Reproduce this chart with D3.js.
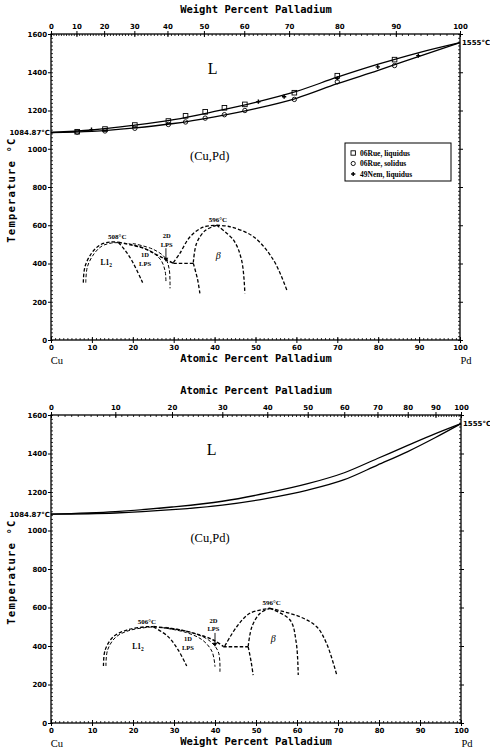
<!DOCTYPE html>
<html><head><meta charset="utf-8">
<script src="https://cdn.jsdelivr.net/npm/d3@7/dist/d3.min.js"></script>
<style>body{margin:0;background:#fff}svg{display:block}</style>
</head><body>
<svg id="chart" width="490" height="749"></svg>
<script>
// ---------- data ----------
const MCu = 63.546, MPd = 106.42;
const tempTicks = [0, 200, 400, 600, 800, 1000, 1200, 1400, 1600];
const pctTicks = [0, 10, 20, 30, 40, 50, 60, 70, 80, 90, 100];
const meltCu = 1084.87, meltPd = 1555;

// liquidus / solidus in atomic % Pd
const liquidusAt = [[0,1084.87],[10,1098],[20,1122],[30,1152],[40,1195],[50,1243],[60,1300],[70,1374],[80,1442],[90,1503],[100,1555]];
const solidusAt  = [[0,1084.87],[10,1091],[20,1108],[30,1132],[40,1167],[50,1210],[60,1264],[70,1340],[80,1410],[90,1483],[100,1555]];

// experimental points (atomic %)
const rueLiq = [[6.4,1089],[13.2,1103],[20.5,1124],[28.7,1145],[32.9,1172],[37.7,1193],[42.4,1214],[47.4,1232],[59.5,1293],[70,1382],[84,1466]];
const rueSol = [[6.4,1087],[13.2,1093],[20.5,1107],[28.7,1127],[32.9,1140],[37.7,1160],[42.4,1178],[47.4,1200],[59.5,1258],[70,1350],[84,1435]];
const nemLiq = [[9.9,1100],[50.7,1246],[57,1272],[70,1368],[79.9,1428],[89.8,1487]];

// ordering boundaries, upper diagram (atomic %)
const topL12Outer = [[7.9,300],[8.3,383],[9.9,453],[12,497],[14.4,512],[16.5,511]];
const topL12Inner = [[8.5,300],[8.9,383],[10.5,450],[12.5,492],[14.8,507],[16.5,509]];
const topL12Right = [[16.5,510],[18,472],[19.7,418],[22.4,300]];
const topUpper    = [[16.5,511],[22.6,480],[26.6,437],[29.9,401]];
const top1DA      = [[19,504],[24,468],[26.8,420],[27.9,360],[28.1,305]];
const top1DB      = [[20,505],[25,474],[27.9,430],[28.9,370],[29.1,270]];
const topHoriz    = [[29.9,401],[34.8,401]];
const topBetaOutL = [[29.9,405],[31.5,453],[34,540],[37.2,590],[40.5,600]];
const topBetaInL  = [[34.8,405],[35.6,506],[37.7,572],[40.5,600]];
const topBetaInLLow = [[34.8,401],[35.8,320],[36.4,244]];
const topBetaInR  = [[40.5,600],[44.6,523],[46.6,418],[47.4,244]];
const topBetaOutR = [[40.5,600],[43.8,592],[49.5,540],[54.4,418],[57.8,253]];

// ordering boundaries, lower diagram (weight %)
const botL12Outer = [[12.8,296],[13.2,379],[15.2,448],[18.5,483],[23.3,500],[25,500]];
const botL12Inner = [[13.4,296],[13.8,379],[15.8,446],[19,480],[23.5,497],[25,499]];
const botL12Right = [[25,499],[28.5,450],[31,380],[33.1,296]];
const botUpper    = [[25,501],[31.5,483],[36.3,457],[39.6,431],[42,398]];
const bot1DA      = [[27,496],[33,470],[37,430],[39.3,370],[40,292]];
const bot1DB      = [[28,497],[34,472],[38.5,430],[40.8,370],[41.2,266]];
const botHoriz    = [[42,396],[48.1,396]];
const botBetaOutL = [[42.4,400],[45.3,500],[48.5,570],[53.4,596]];
const botBetaInL  = [[48.1,398],[49,500],[51,570],[53.4,596]];
const botBetaInLLow = [[48.1,396],[48.8,320],[49.3,249]];
const botBetaInR  = [[53.4,596],[58.3,535],[59.8,420],[60.3,249]];
const botBetaOutR = [[53.4,596],[60.7,552],[64.8,500],[67.2,414],[69.7,249]];

// ---------- helpers ----------
const at2wt = a => a <= 0 ? 0 : a >= 100 ? 100 : 100 * a * MPd / (a * MPd + (100 - a) * MCu);
const wt2at = w => w <= 0 ? 0 : w >= 100 ? 100 : 100 * (w / MPd) / (w / MPd + (100 - w) / MCu);

const svg = d3.select("#chart");
const monoFont = "'DejaVu Sans Mono', monospace";
const tickFont = "'DejaVu Sans', sans-serif";
const serif = "'Liberation Serif', serif";

function drawPanel(cfg) {
  const x = d3.scaleLinear().domain([0, 100]).range([cfg.xL, cfg.xR]);
  const y = d3.scaleLinear().domain([0, 1600]).range([cfg.yB, cfg.yT]);
  const g = svg.append("g");
  const mainConv = cfg.mainConv;
  const topPos = cfg.topPos;

  g.append("rect").attr("x", x(0)).attr("y", y(1600)).attr("width", x(100) - x(0)).attr("height", y(0) - y(1600))
    .attr("fill", "none").attr("stroke", "#000").attr("stroke-width", 1.3);

  const bMinor = d3.range(0, 101, 1);
  g.append("g").attr("transform", `translate(0,${y(0)})`)
    .call(d3.axisTop(x).tickValues(bMinor).tickSize(2).tickFormat(""))
    .call(s => { s.select(".domain").remove(); s.selectAll("line").attr("stroke-width", 0.8); });
  g.append("g").attr("transform", `translate(0,${y(0)})`)
    .call(d3.axisBottom(x).tickValues(pctTicks).tickSize(3).tickPadding(2).tickFormat(d3.format("d")))
    .call(s => { s.select(".domain").remove(); s.selectAll("line").attr("stroke-width", 1);
      s.selectAll("text").attr("font-family", tickFont).attr("font-weight", "bold").attr("font-size", 7); });
  g.append("g").attr("transform", `translate(0,${y(0)})`)
    .call(d3.axisTop(x).tickValues(pctTicks).tickSize(3).tickFormat(""))
    .call(s => { s.select(".domain").remove(); });

  const tMinor = d3.range(0, 101, 1);
  g.append("g").attr("transform", `translate(0,${y(1600)})`)
    .call(d3.axisBottom(x).tickValues(tMinor.map(topPos)).tickSize(2).tickFormat(""))
    .call(s => { s.select(".domain").remove(); s.selectAll("line").attr("stroke-width", 0.8); });
  g.append("g").attr("transform", `translate(0,${y(1600)})`)
    .call(d3.axisTop(x).tickValues(pctTicks.map(topPos)).tickSize(3).tickPadding(2)
      .tickFormat((d, i) => pctTicks[i]))
    .call(s => { s.select(".domain").remove();
      s.selectAll("text").attr("font-family", tickFont).attr("font-weight", "bold").attr("font-size", 7); });
  g.append("g").attr("transform", `translate(0,${y(1600)})`)
    .call(d3.axisBottom(x).tickValues(pctTicks.map(topPos)).tickSize(3).tickFormat(""))
    .call(s => { s.select(".domain").remove(); });

  const yMinor = d3.range(0, 1601, 20);
  g.append("g").attr("transform", `translate(${x(0)},0)`)
    .call(d3.axisRight(y).tickValues(yMinor).tickSize(2).tickFormat(""))
    .call(s => { s.select(".domain").remove(); s.selectAll("line").attr("stroke-width", 0.8); });
  g.append("g").attr("transform", `translate(${x(0)},0)`)
    .call(d3.axisLeft(y).tickValues(tempTicks).tickSize(3).tickPadding(1).tickFormat(d3.format("d")))
    .call(s => { s.select(".domain").remove();
      s.selectAll("text").attr("font-family", tickFont).attr("font-weight", "bold").attr("font-size", 7); });
  g.append("g").attr("transform", `translate(${x(100)},0)`)
    .call(d3.axisLeft(y).tickValues(yMinor).tickSize(2).tickFormat(""))
    .call(s => { s.select(".domain").remove(); s.selectAll("line").attr("stroke-width", 0.8); });
  g.append("g").attr("transform", `translate(${x(100)},0)`)
    .call(d3.axisRight(y).tickValues(tempTicks).tickSize(3).tickFormat(""))
    .call(s => { s.select(".domain").remove(); });

  g.append("text").attr("x", 256).attr("y", y(1600) - 21).attr("text-anchor", "middle")
    .attr("font-family", monoFont).attr("font-weight", "bold").attr("font-size", 10.5).text(cfg.topTitle);
  g.append("text").attr("x", 256).attr("y", y(0) + 22).attr("text-anchor", "middle")
    .attr("font-family", monoFont).attr("font-weight", "bold").attr("font-size", 10.5).text(cfg.bottomTitle);
  g.append("text").attr("x", x(0) + 6).attr("y", y(0) + 24).attr("text-anchor", "middle")
    .attr("font-family", serif).attr("font-size", 10.5).text("Cu");
  g.append("text").attr("x", x(100) + 6).attr("y", y(0) + 24).attr("text-anchor", "middle")
    .attr("font-family", serif).attr("font-size", 10.5).text("Pd");
  g.append("text").attr("transform", `translate(15,${(y(0) + y(1600)) / 2 + 3}) rotate(-90)`)
    .attr("text-anchor", "middle").attr("font-family", monoFont).attr("font-weight", "bold")
    .attr("font-size", 10.5).attr("letter-spacing", 1.2).text("Temperature °C");

  g.append("text").attr("x", x(0) - 1).attr("y", y(meltCu) + 2.5).attr("text-anchor", "end")
    .attr("font-family", tickFont).attr("font-weight", "bold").attr("font-size", 7).text("1084.87°C");
  g.append("text").attr("x", x(100) + 2).attr("y", y(meltPd) + 2.5)
    .attr("font-family", tickFont).attr("font-weight", "bold").attr("font-size", 7).text("1555°C");

  const lineAt = d3.line().x(d => x(mainConv(d[0]))).y(d => y(d[1])).curve(d3.curveMonotoneX);
  [liquidusAt, solidusAt].forEach(arr => g.append("path").attr("d", lineAt(arr))
    .attr("fill", "none").attr("stroke", "#000").attr("stroke-width", 1.3));

  const lineB = d3.line().x(d => x(d[0])).y(d => y(d[1])).curve(d3.curveCatmullRom.alpha(0.5));
  cfg.bounds.forEach(b => g.append("path").attr("d", lineB(b.pts)).attr("fill", "none")
    .attr("stroke", "#000").attr("stroke-width", b.w || 1.3).attr("stroke-dasharray", b.dash || "3.5,2"));

  g.append("text").attr("x", x(cfg.Lpos[0])).attr("y", y(cfg.Lpos[1])).attr("text-anchor", "middle")
    .attr("font-family", serif).attr("font-size", 16).text("L");
  g.append("text").attr("x", x(cfg.CuPdPos[0])).attr("y", y(cfg.CuPdPos[1])).attr("text-anchor", "middle")
    .attr("font-family", serif).attr("font-size", 12.5).text("(Cu,Pd)");

  cfg.labels.forEach(l => {
    const t = g.append("text").attr("x", x(l.x)).attr("y", y(l.t)).attr("text-anchor", "middle")
      .attr("font-family", l.font || serif).attr("font-weight", l.bold === false ? "normal" : "bold")
      .attr("font-style", l.italic ? "italic" : "normal").attr("font-size", l.size || 6.5);
    if (l.sub) { t.text(l.text); t.append("tspan").attr("font-size", 5.5).attr("dy", 2).text(l.sub); }
    else t.text(l.text);
  });
  g.append("line").attr("x1", x(cfg.arrow[0])).attr("y1", y(cfg.arrow[1])).attr("x2", x(cfg.arrow[0])).attr("y2", y(cfg.arrow[2]))
    .attr("stroke", "#000").attr("stroke-width", 0.9);
  g.append("path").attr("d", d3.symbol().type(d3.symbolTriangle).size(10)())
    .attr("transform", `translate(${x(cfg.arrow[0])},${y(cfg.arrow[2]) - 1}) rotate(180)`).attr("fill", "#000");

  return { g, x, y };
}

// ---------- upper diagram: atomic % on bottom ----------
const upper = drawPanel({
  xL: 51, xR: 460, yT: 34, yB: 340,
  mainConv: a => a, topPos: w => wt2at(w),
  topTitle: "Weight Percent Palladium", bottomTitle: "Atomic Percent Palladium",
  Lpos: [39.5, 1390], CuPdPos: [38.8, 940],
  bounds: [
    { pts: topL12Outer }, { pts: topL12Inner, w: 1 }, { pts: topL12Right }, { pts: topUpper, w: 1.5 },
    { pts: top1DA, w: 1 }, { pts: top1DB, w: 1 }, { pts: topHoriz }, { pts: topBetaOutL },
    { pts: topBetaInL }, { pts: topBetaInLLow }, { pts: topBetaInR }, { pts: topBetaOutR }
  ],
  labels: [
    { x: 16.2, t: 527, text: "508°C", size: 7 },
    { x: 40.8, t: 618, text: "596°C", size: 7 },
    { x: 28.3, t: 532, text: "2D" }, { x: 28.3, t: 488, text: "LPS" },
    { x: 23, t: 434, text: "1D" }, { x: 23, t: 388, text: "LPS" },
    { x: 13.5, t: 390, text: "L1", sub: "2", size: 7.5 },
    { x: 40.9, t: 425, text: "β", italic: true, size: 10, bold: false }
  ],
  arrow: [28.1, 480, 418]
});
upper.g.selectAll(null).data(rueLiq).enter().append("rect")
  .attr("x", d => upper.x(d[0]) - 2.3).attr("y", d => upper.y(d[1]) - 2.3).attr("width", 4.6).attr("height", 4.6)
  .attr("fill", "none").attr("stroke", "#000").attr("stroke-width", 0.9);
upper.g.selectAll(null).data(rueSol).enter().append("circle")
  .attr("cx", d => upper.x(d[0])).attr("cy", d => upper.y(d[1])).attr("r", 2.2)
  .attr("fill", "none").attr("stroke", "#000").attr("stroke-width", 0.9);
upper.g.selectAll(null).data(nemLiq).enter().append("path")
  .attr("d", d3.symbol().type(d3.symbolCross).size(10)())
  .attr("transform", d => `translate(${upper.x(d[0])},${upper.y(d[1])})`).attr("fill", "#000");

const lg = upper.g.append("g").attr("transform", "translate(345,143)");
lg.append("rect").attr("width", 106).attr("height", 38).attr("fill", "#fff").attr("stroke", "#000").attr("stroke-width", 1);
const legendItems = ["06Rue, liquidus", "06Rue, solidus", "49Nem, liquidus"];
legendItems.forEach((t, i) => {
  const yy = 10 + i * 10.5;
  if (i === 0) lg.append("rect").attr("x", 6).attr("y", yy - 2.2).attr("width", 4.4).attr("height", 4.4).attr("fill", "none").attr("stroke", "#000").attr("stroke-width", 0.9);
  if (i === 1) lg.append("circle").attr("cx", 8.2).attr("cy", yy).attr("r", 2.1).attr("fill", "none").attr("stroke", "#000").attr("stroke-width", 0.9);
  if (i === 2) lg.append("path").attr("d", d3.symbol().type(d3.symbolCross).size(10)()).attr("transform", `translate(8.2,${yy})`).attr("fill", "#000");
  lg.append("text").attr("x", 15).attr("y", yy + 2.5).attr("font-family", serif).attr("font-weight", "bold")
    .attr("font-size", 7.5).text(t);
});

// ---------- lower diagram: weight % on bottom ----------
drawPanel({
  xL: 51, xR: 461, yT: 415, yB: 723,
  mainConv: a => at2wt(a), topPos: a => at2wt(a),
  topTitle: "Atomic Percent Palladium", bottomTitle: "Weight Percent Palladium",
  Lpos: [39.2, 1390], CuPdPos: [38.8, 940],
  bounds: [
    { pts: botL12Outer }, { pts: botL12Inner, w: 1 }, { pts: botL12Right }, { pts: botUpper, w: 1.5 },
    { pts: bot1DA, w: 1 }, { pts: bot1DB, w: 1 }, { pts: botHoriz }, { pts: botBetaOutL },
    { pts: botBetaInL }, { pts: botBetaInLLow }, { pts: botBetaInR }, { pts: botBetaOutR }
  ],
  labels: [
    { x: 23.4, t: 515, text: "506°C", size: 7 },
    { x: 53.8, t: 612, text: "596°C", size: 7 },
    { x: 39.6, t: 522, text: "2D" }, { x: 39.6, t: 478, text: "LPS" },
    { x: 33.4, t: 425, text: "1D" }, { x: 33.4, t: 381, text: "LPS" },
    { x: 21.2, t: 384, text: "L1", sub: "2", size: 7.5 },
    { x: 54.2, t: 420, text: "β", italic: true, size: 10, bold: false }
  ],
  arrow: [40, 468, 405]
});
</script>
</body></html>
